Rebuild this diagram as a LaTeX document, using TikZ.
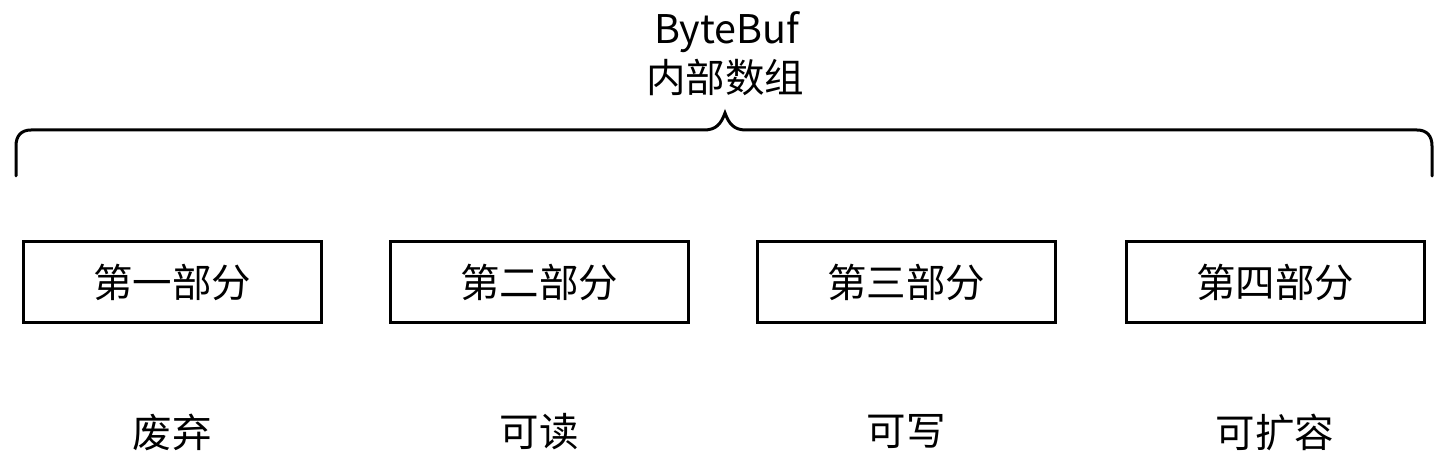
\documentclass[tikz,border=0pt]{standalone}
\usepackage{fontspec}
\setmainfont{Noto Sans CJK SC}
\begin{document}
\begin{tikzpicture}[x=1pt,y=-1pt,
  part/.style={draw=black,line width=3pt,minimum width=298pt,minimum height=81pt,inner sep=0pt,font=\fontsize{39.5pt}{44pt}\selectfont},
  lbl/.style={font=\fontsize{39.5pt}{44pt}\selectfont,inner sep=0pt},
  bracepath/.style={draw=black,line width=3pt}]
\useasboundingbox (0,0) rectangle (1444,462);
\node[lbl] (t1) at (727,32) {ByteBuf};
\node[lbl] (t2) at (725,77) {内部数组};
\draw[bracepath,line cap=round] (16,176) -- (16,146) .. controls (16,136) and (21,130) .. (31,130) -- (704,130)
  .. controls (716,130) and (721,124) .. (725,113)
  .. controls (729,124) and (734,130) .. (746,130) -- (1417,130)
  .. controls (1427,130) and (1432,136) .. (1432,146) -- (1432,176);
\node[part] (p1) at (172,282) {第一部分};
\node[part] (p2) at (539,282) {第二部分};
\node[part] (p3) at (906,282) {第三部分};
\node[part] (p4) at (1275,282) {第四部分};
\node[lbl] (l1) at (172,432) {废弃};
\node[lbl] (l2) at (539,432) {可读};
\node[lbl] (l3) at (906,432) {可写};
\node[lbl] (l4) at (1275,432) {可扩容};
\end{tikzpicture}
\end{document}
